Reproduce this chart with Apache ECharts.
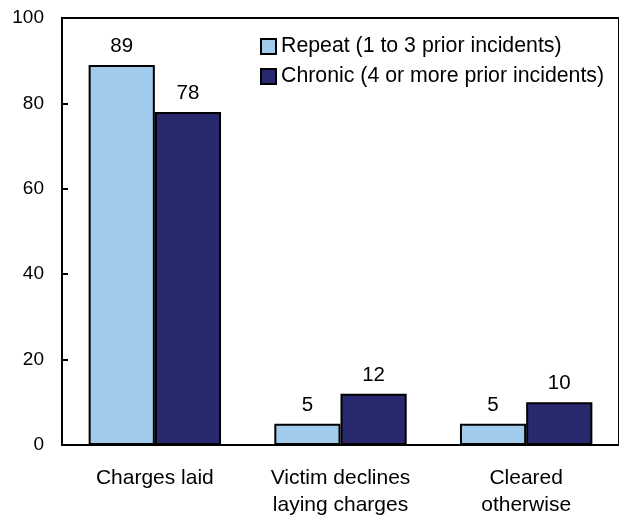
<!DOCTYPE html>
<html>
<head>
<meta charset="utf-8">
<script src="https://cdn.jsdelivr.net/npm/echarts@6/dist/echarts.min.js"></script>
<style>
  html, body { margin: 0; padding: 0; background: #fff; }
  #chart { width: 619px; height: 519px; }
</style>
</head>
<body>
<div id="chart"></div>
<script>
// categories and values
const categories = ['Charges laid', 'Victim declines\nlaying charges', 'Cleared\notherwise']
const repeatValues = [89, 5, 5]
const chronicValues = [78, 12, 10]
const seriesNames = ['Repeat (1 to 3 prior incidents)', 'Chronic (4 or more prior incidents)']

const font = 'Liberation Sans, Arial, sans-serif'
const textStyle = { color: '#000', fontFamily: font, fontSize: 19 }

const barLabel = Object.assign({}, textStyle, {
  show: true,
  position: 'top',
  distance: 8,
  fontSize: 20.5
})

const option = {
  animation: false,
  textStyle,
  grid: {
    left: 62,
    top: 18,
    width: 560,
    bottom: 74,
    show: true,
    borderColor: '#000',
    borderWidth: 2
  },
  legend: {
    data: seriesNames,
    orient: 'vertical',
    left: 255,
    top: 31,
    itemWidth: 15,
    itemHeight: 15,
    itemGap: 9,
    icon: 'rect',
    textStyle: Object.assign({}, textStyle, { fontSize: 21.3 })
  },
  xAxis: {
    type: 'category',
    data: categories,
    axisLine: { lineStyle: { color: '#000', width: 2 } },
    axisTick: { show: false },
    axisLabel: Object.assign({}, textStyle, { margin: 20, lineHeight: 27, fontSize: 21 })
  },
  yAxis: {
    type: 'value',
    min: 0,
    max: 100,
    interval: 20,
    axisLine: { show: true, lineStyle: { color: '#000', width: 2 } },
    axisTick: { show: true, inside: true, length: 6, lineStyle: { color: '#000', width: 2 } },
    axisLabel: Object.assign({ margin: 18 }, textStyle),
    splitLine: { show: false }
  },
  series: [
    {
      name: seriesNames[0],
      type: 'bar',
      data: repeatValues,
      barGap: '0%',
      barCategoryGap: '28.7%',
      itemStyle: { color: '#a0cbec', borderColor: '#000', borderWidth: 2 },
      label: barLabel
    },
    {
      name: seriesNames[1],
      type: 'bar',
      data: chronicValues,
      itemStyle: { color: '#29296f', borderColor: '#000', borderWidth: 2 },
      label: barLabel
    }
  ]
}

const myChart = echarts.init(document.getElementById('chart'))
myChart.setOption(option)
</script>
</body>
</html>
